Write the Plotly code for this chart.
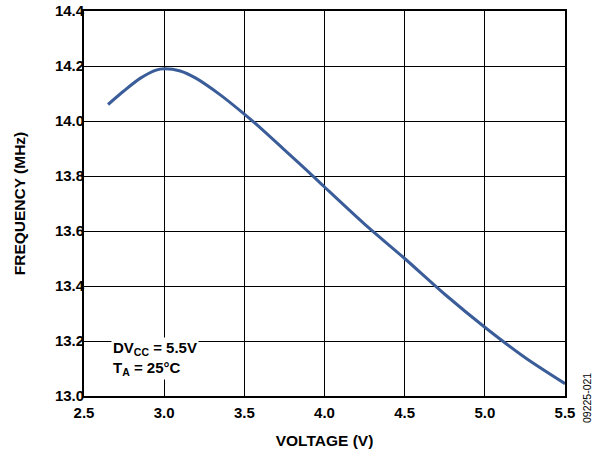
import plotly.graph_objects as go

voltage = [2.65, 2.75, 2.85, 2.95, 3.0, 3.1, 3.2, 3.35, 3.5, 3.6, 3.75, 3.9, 4.0, 4.25, 4.5, 4.75, 5.0, 5.25, 5.5]
frequency = [14.06, 14.11, 14.155, 14.185, 14.19, 14.182, 14.155, 14.095, 14.025, 13.975, 13.895, 13.815, 13.76, 13.625, 13.50, 13.37, 13.25, 13.14, 13.045]

x_ticks = [2.5, 3.0, 3.5, 4.0, 4.5, 5.0, 5.5]
x_labels = ["2.5", "3.0", "3.5", "4.0", "4.5", "5.0", "5.5"]
y_ticks = [13.0, 13.2, 13.4, 13.6, 13.8, 14.0, 14.2, 14.4]
y_labels = ["13.0", "13.2", "13.4", "13.6", "13.8", "14.0", "14.2", "14.4"]

font_family = "Liberation Sans, Arial, sans-serif"
L, R, T, B = 84, 565, 11, 396
W, H = 605, 457

fig = go.Figure()
fig.add_trace(go.Scatter(
    x=voltage, y=frequency, mode="lines",
    line=dict(color="#3A5D99", width=3, shape="spline", smoothing=0.8),
    showlegend=False, hoverinfo="skip",
))

axis_common = dict(
    showgrid=True, gridcolor="#000000", gridwidth=1.3,
    showline=True, linecolor="#000000", linewidth=1.8, mirror=True,
    zeroline=False, ticks="", automargin=False,
    tickfont=dict(family=font_family, size=15, color="#000000", weight="bold"),
)

fig.update_xaxes(
    range=[2.5, 5.5], tickvals=x_ticks, ticktext=x_labels, ticklabelstandoff=2,
    title=dict(text="VOLTAGE (V)", font=dict(family=font_family, size=15.5, color="#000000", weight="bold"), standoff=15),
    **axis_common,
)
fig.update_yaxes(
    range=[13.0, 14.4], tickvals=y_ticks, ticktext=y_labels, ticklabelstandoff=-5,
    title=dict(text="FREQUENCY (MHz)", font=dict(family=font_family, size=15.5, color="#000000", weight="bold"), standoff=25),
    **axis_common,
)

fig.add_annotation(
    x=2.67, y=13.2145, xref="x", yref="y", xanchor="left", yanchor="top",
    text="DV<sub>CC</sub> = 5.5V<br>T<sub>A</sub> = 25°C",
    showarrow=False, align="left", bgcolor="#ffffff", borderpad=1,
    font=dict(family=font_family, size=15, color="#000000", weight="bold"),
)

fig.add_annotation(
    xref="paper", yref="paper",
    x=(595 - L) / (R - L), y=1 - (425 - T) / (B - T),
    text="09225-021", showarrow=False, textangle=-90,
    font=dict(family=font_family, size=10.5, color="#000000"),
)

fig.update_layout(
    width=W, height=H,
    margin=dict(l=L, r=W - R, t=T, b=H - B, autoexpand=False),
    plot_bgcolor="#ffffff", paper_bgcolor="#ffffff",
)

fig.write_html("out.html", config={"displayModeBar": False},
               post_script="document.body.style.margin='0';document.body.style.padding='0';")
